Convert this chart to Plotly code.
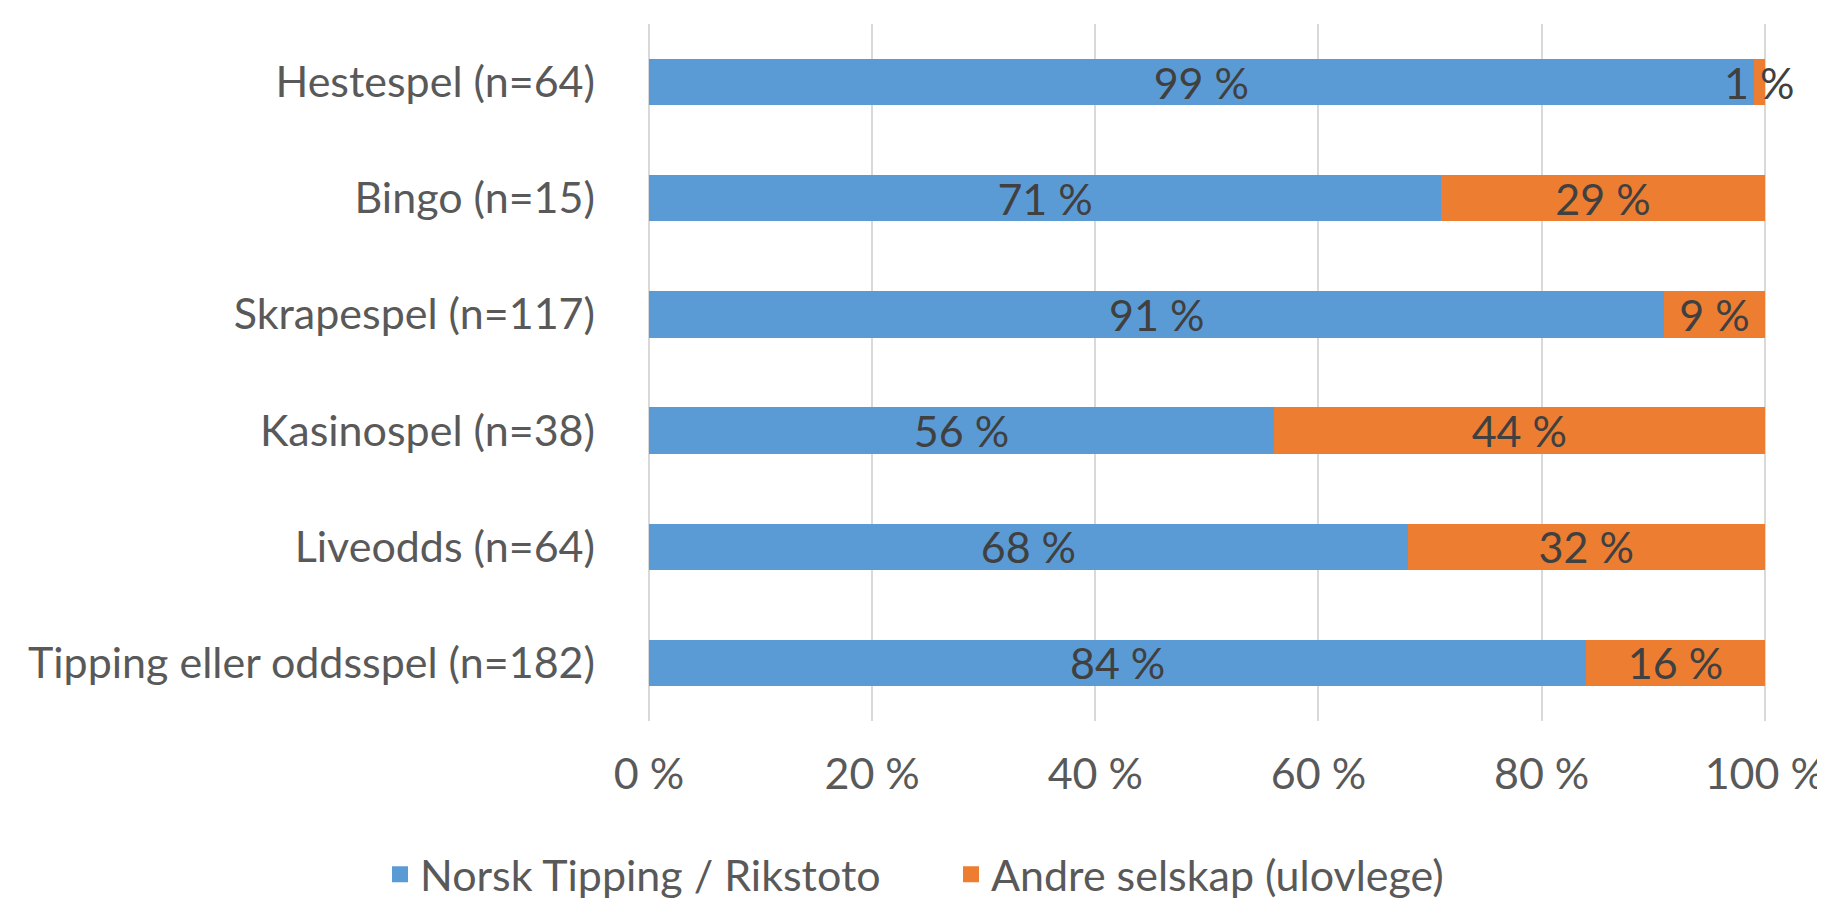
import plotly.graph_objects as go

categories = ["Hestespel (n=64)", "Bingo (n=15)", "Skrapespel (n=117)",
              "Kasinospel (n=38)", "Liveodds (n=64)", "Tipping eller oddsspel (n=182)"]
norsk_tipping = [99, 71, 91, 56, 68, 84]
andre_selskap = [1, 29, 9, 44, 32, 16]
series_names = ["Norsk Tipping / Rikstoto", "Andre selskap (ulovlege)"]
colors = ["#5B9BD5", "#ED7D31"]
tick_vals = [0, 20, 40, 60, 80, 100]
tick_text = ["0 %", "20 %", "40 %", "60 %", "80 %", "100 %"]

FONT = "Lato"
fs = 43

fig = go.Figure()
for name, vals, color in zip(series_names, [norsk_tipping, andre_selskap], colors):
    fig.add_trace(go.Bar(
        y=categories, x=vals, orientation="h", name=name, showlegend=False,
        marker=dict(color=color, line=dict(width=0)),
        text=[f"{v} %" for v in vals], textposition="inside",
        insidetextanchor="middle", constraintext="none",
        textfont=dict(family=FONT, size=fs, color="#404040"),
        textangle=0, cliponaxis=False,
    ))
# legend entries with square markers
for name, color in zip(series_names, colors):
    fig.add_trace(go.Scatter(
        x=[None], y=[None], mode="markers", name=name,
        marker=dict(symbol="square", size=24, color=color),
    ))

fig.update_layout(
    barmode="stack", bargap=0.6,
    width=1825, height=902,
    margin=dict(l=641, r=66, t=16, b=189, autoexpand=False),
    paper_bgcolor="white", plot_bgcolor="white",
    font=dict(family=FONT, size=fs, color="#595959"),
    showlegend=True,
    legend=dict(orientation="h", x=-0.2406, xanchor="left",
                y=-0.22, yanchor="middle", traceorder="normal",
                itemsizing="trace", entrywidth=526,
                font=dict(size=fs, color="#595959")),
)
fig.update_xaxes(range=[0, 100.2], tickvals=tick_vals, ticktext=tick_text,
                 showgrid=True, gridcolor="#d9d9d9", gridwidth=2,
                 zeroline=True, zerolinecolor="#d9d9d9", zerolinewidth=2,
                 showline=False, ticks="", tickangle=0, ticklabelstandoff=24,
                 tickfont=dict(size=fs, color="#595959"))
fig.update_yaxes(autorange="reversed", showgrid=False, showline=False, ticks="",
                 ticklabelstandoff=53, tickfont=dict(size=fs, color="#595959"))

fig.write_html("out.html")
